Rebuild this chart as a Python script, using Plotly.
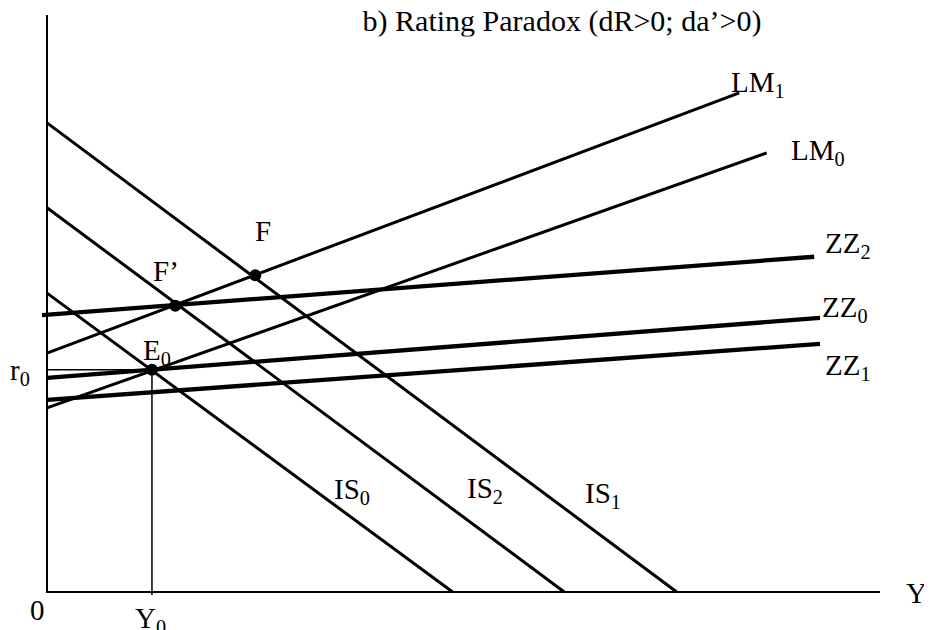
import plotly.graph_objects as go

# ---- data (model units: Y on x-axis 0..100, r on y-axis 0..100) ----
is_names = ["IS0", "IS2", "IS1"]
is_r_intercept = [51.8, 66.6, 81.3]      # r at Y = 0
is_y_intercept = [48.7, 62.1, 75.6]      # Y at r = 0

lm_names = ["LM0", "LM1"]
lm_x = [[0.0, 86.4], [0.0, 83.1]]
lm_y = [[31.9, 76.1], [41.4, 86.5]]

zz_names = ["ZZ0", "ZZ1", "ZZ2"]
zz_x = [[0.0, 92.8], [0.0, 92.8], [-0.6, 92.1]]
zz_y = [[37.1, 47.5], [33.3, 43.0], [48.0, 58.1]]

pt_names = ["E0", "F'", "F"]
pt_x = [12.6, 15.4, 25.0]
pt_y = [38.5, 49.6, 54.9]

Y0 = 12.6
r0 = 38.5

title = "b) Rating Paradox (dR>0; da\u2019>0)"

FONT = "Liberation Serif, Times New Roman, serif"

# pixel scale of the drawing (page pixels per model unit)
SX, SY = 8.33, 5.77
OX, OY = 47, 592          # page pixel of the origin
PAGE_OFF = 8              # default body margin of the html page


def px(xp, yp):
    return (xp - OX) / SX, (OY - yp) / SY


fig = go.Figure()

# axes
fig.add_trace(go.Scatter(x=[0, 0, 100], y=[100, 0, 0], mode="lines",
                         line=dict(color="black", width=2), hoverinfo="skip"))
# guides for E0
fig.add_trace(go.Scatter(x=[0, Y0, Y0], y=[r0, r0, -0.5], mode="lines",
                         line=dict(color="black", width=1.5), hoverinfo="skip"))

for n, a, b in zip(is_names, is_r_intercept, is_y_intercept):
    fig.add_trace(go.Scatter(x=[0, b], y=[a, 0], mode="lines", name=n,
                             line=dict(color="black", width=3)))
for n, xs, ys in zip(lm_names, lm_x, lm_y):
    fig.add_trace(go.Scatter(x=xs, y=ys, mode="lines", name=n,
                             line=dict(color="black", width=3)))
for n, xs, ys in zip(zz_names, zz_x, zz_y):
    fig.add_trace(go.Scatter(x=xs, y=ys, mode="lines", name=n,
                             line=dict(color="black", width=4.3)))
fig.add_trace(go.Scatter(x=pt_x, y=pt_y, mode="markers", name="points",
                         marker=dict(color="black", size=12)))

# title as a text trace (its descenders are clipped in the reference)
tx, ty = px(562, 23)
fig.add_trace(go.Scatter(x=[tx], y=[ty], mode="text", text=[title],
                         textposition="middle center",
                         textfont=dict(family=FONT, size=30, color="black"),
                         hoverinfo="skip"))
x0c, y0c = px(350, 36.5)
x1c, y1c = px(790, 48)
fig.add_shape(type="rect", x0=x0c, x1=x1c, y0=y1c, y1=y0c,
              fillcolor="white", line=dict(width=0), layer="above")


def lab(x, y, t, size=29):
    fig.add_annotation(x=x, y=y, text=t, showarrow=False,
                       font=dict(family=FONT, size=size, color="black"),
                       xanchor="center", yanchor="middle")


labels = [
    ((758, 84), "LM<sub>1</sub>"),
    ((818, 152), "LM<sub>0</sub>"),
    ((848, 245), "ZZ<sub>2</sub>"),
    ((845, 309), "ZZ<sub>0</sub>"),
    ((848, 367), "ZZ<sub>1</sub>"),
    ((352, 491), "IS<sub>0</sub>"),
    ((485, 490), "IS<sub>2</sub>"),
    ((603, 495), "IS<sub>1</sub>"),
    ((263, 231), "F"),
    ((166, 271), "F\u2019"),
    ((157, 352), "E<sub>0</sub>"),
    ((20, 372), "r<sub>0</sub>"),
    ((37, 610), "0"),
    ((150, 620), "Y<sub>0</sub>"),
    ((916, 593), "Y"),
]
for (xp, yp), t in labels:
    x, y = px(xp, yp)
    lab(x, y, t)

W, H = 932, 630
fig.update_layout(
    width=W, height=H,
    margin=dict(l=0, r=0, t=0, b=0),
    paper_bgcolor="white", plot_bgcolor="white",
    showlegend=False,
    xaxis=dict(range=[(PAGE_OFF - OX) / SX, (PAGE_OFF + W - OX) / SX],
               visible=False, fixedrange=True),
    yaxis=dict(range=[(OY - PAGE_OFF - H) / SY, (OY - PAGE_OFF) / SY],
               visible=False, fixedrange=True),
)

fig.write_html("out.html")
